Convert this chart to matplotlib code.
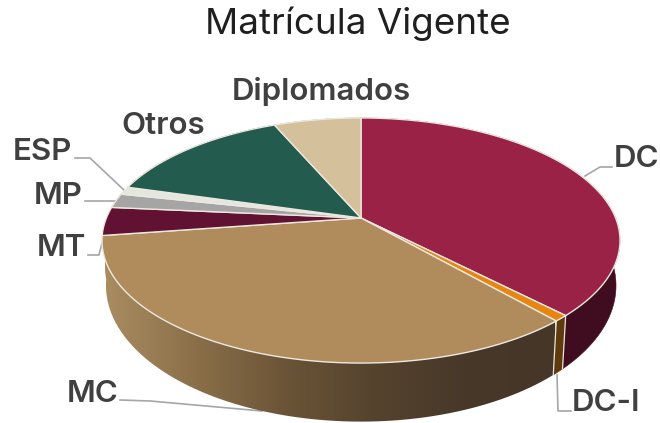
"""Matricula Vigente: 3D-looking pie drawn with plain patches."""

import numpy as np
import matplotlib

matplotlib.use("Agg")
import matplotlib.pyplot as plt
from matplotlib.colors import LinearSegmentedColormap
from matplotlib.patches import Polygon

TITLE = "Matrícula Vigente"
labels = ["DC", "DC-I", "MC", "MT", "MP", "ESP", "Otros", "Diplomados"]
values = [37.7, 0.8, 34.2, 3.75, 1.9, 1.05, 14.1, 6.5]

top_colors = ["#9b2247", "#e6860f", "#b08c5c", "#611232", "#a5a5a5", "#e4e7de", "#235b4e", "#d4c19c"]
# None = shaded with the brown gradient
wall_colors = ["#400d20", "#5f3a0c", None, None, "#6e6e6e", "#9a9c94", "#163a32", "#8d8068"]

# projection of the tilted disc, in pixels
CX, CY = 361, 218
A, B, K = 254.6, 118.4, 0.1837
# top rim ellipse centre y / semi axes, and the same for the bottom rim
TOP_CY, TOP_RX, TOP_RY = 240, 259, 122.5
BOT_CY, BOT_RX, BOT_RY = 285, 255, 136

mc_wall = LinearSegmentedColormap.from_list(
    "mc_wall", ["#a98c60", "#8a6f49", "#6b5437", "#55432e", "#483829", "#463628"]
)


def project(theta):
    u, v = np.cos(theta), np.sin(theta)
    w = 1 + K * v
    return CX + A * u / w, CY - B * v / w


fig = plt.figure(figsize=(6.6, 4.23), dpi=100)
ax = fig.add_axes([0, 0, 1, 1])

# slice limits, clockwise from 12 o'clock
sweep = np.array(values) / sum(values) * 2 * np.pi
ends = np.pi / 2 - np.cumsum(sweep)
starts = ends + sweep

# side walls first, the top surface covers the back part
for i, (a0, a1) in enumerate(zip(starts, ends)):
    n = max(2, int(abs(a0 - a1) / 0.01))
    x, y = project(np.linspace(a0, a1, n))
    xb = CX + (x - CX) * BOT_RX / TOP_RX
    yb = BOT_CY + (y - TOP_CY) * BOT_RY / TOP_RY
    pts = np.column_stack([np.r_[x, xb[::-1]], np.r_[y, yb[::-1]]])
    if wall_colors[i] is None:
        wall = Polygon(pts, closed=True, fc="none", ec="none", transform=ax.transData)
        ax.add_patch(wall)
        im = ax.imshow(np.linspace(0, 1, 256)[None, :], cmap=mc_wall, extent=(105, 555, 423, 0),
                       aspect="auto", zorder=2)
        im.set_clip_path(wall)
    else:
        ax.add_patch(Polygon(pts, closed=True, fc=wall_colors[i], ec=wall_colors[i], lw=0.4, zorder=2))
    # pale seam between the right hand front walls
    if np.sin(a1) < 0 and np.cos(a1) > 0:
        ax.plot([x[-1], xb[-1]], [y[-1], yb[-1]], color="#e8e4dc", lw=0.9, zorder=3)

# top surface
for i, (a0, a1) in enumerate(zip(starts, ends)):
    n = max(2, int(abs(a0 - a1) / 0.01))
    x, y = project(np.linspace(a0, a1, n))
    pts = np.column_stack([np.r_[CX, x], np.r_[CY, y]])
    ax.add_patch(Polygon(pts, closed=True, fc=top_colors[i], ec="#ece8e0", lw=1.0, joinstyle="round", zorder=4))

# leader lines
leaders = [
    [(585, 176), (600, 167), (612, 167)],
    [(557, 375), (558, 411), (571, 411)],
    [(120, 400), (150, 401), (262, 411)],
    [(104, 235), (99, 255), (88, 255)],
    [(117, 201), (85, 201)],
    [(125, 191), (90, 158), (75, 158)],
]
for pts in leaders:
    xs, ys = zip(*pts)
    ax.plot(xs, ys, color="#a6a6a6", lw=1.2, zorder=1)

label_pos = [(637, 159), (606, 403), (93, 394), (61, 248), (58, 196), (42, 152), (163, 126), (321, 91)]
for name, (px, py) in zip(labels, label_pos):
    ax.text(px, py, name, ha="center", va="center", fontsize=22.5, fontweight="semibold",
            family="Inter", color="#404040", zorder=5)

ax.text(358, 24, TITLE, ha="center", va="center", fontsize=26.5, family="Inter", color="#1f1f1f")

ax.set_xlim(0, 660)
ax.set_ylim(423, 0)
ax.axis("off")

fig.savefig("out.png", dpi=100)
